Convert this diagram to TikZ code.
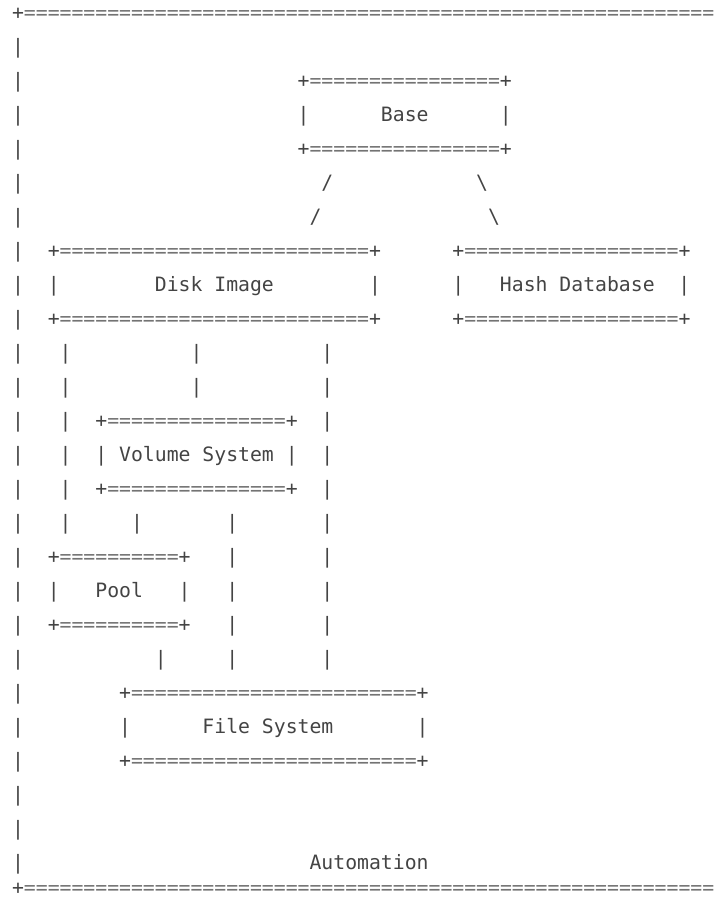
\documentclass[tikz,border=0pt]{standalone}
\usepackage{fontspec}
\newfontfamily\asciimono{DejaVu Sans Mono}
\definecolor{ink}{RGB}{68,68,68}
\definecolor{eqink}{RGB}{115,115,115}
\newcommand\repsraw[1]{\ifnum#1>0 =\expandafter\repsraw\expandafter{\the\numexpr#1-1\relax}\fi}
\newcommand\reps[1]{\textcolor{eqink}{\repsraw{#1}}}
\newcommand\ascii[4]{\node[txt] (#1) at ({12.05+11.9*(#2)},{879.5-34*(#3)}) {#4};}
\tikzset{txt/.style={font=\asciimono\fontsize{19.77}{34}\selectfont, text=ink, inner sep=0pt, outer sep=0pt, anchor=base west}}
\begin{document}
\begin{tikzpicture}[x=1pt,y=1pt]
\useasboundingbox (0,0) rectangle (714,899);
\clip (0,0) rectangle (714,899);
% outer frame
\ascii{topborder}{0}{0}{+\reps{58}}
\foreach \r in {1,...,25}{\ascii{lb\r}{0}{\r}{|}}
\node[txt] (botborder) at (12.05,5) {+\reps{58}};
% Base
\ascii{baseT}{24}{2}{+\reps{16}+}
\ascii{baseL}{24}{3}{|}
\ascii{base}{31}{3}{Base}
\ascii{baseR}{41}{3}{|}
\ascii{baseB}{24}{4}{+\reps{16}+}
% links from Base
\ascii{slA}{26}{5}{/}
\ascii{slB}{25}{6}{/}
\ascii{bsA}{39}{5}{\textbackslash}
\ascii{bsB}{40}{6}{\textbackslash}
% Disk Image
\ascii{diskT}{3}{7}{+\reps{26}+}
\ascii{diskL}{3}{8}{|}
\ascii{disk}{12}{8}{Disk Image}
\ascii{diskR}{30}{8}{|}
\ascii{diskB}{3}{9}{+\reps{26}+}
% Hash Database
\ascii{hashT}{37}{7}{+\reps{18}+}
\ascii{hashL}{37}{8}{|}
\ascii{hash}{41}{8}{Hash Database}
\ascii{hashR}{56}{8}{|}
\ascii{hashB}{37}{9}{+\reps{18}+}
% links below Disk Image
\foreach \r in {10,...,15}{\ascii{va\r}{4}{\r}{|}}
\foreach \r in {10,11}{\ascii{vb\r}{15}{\r}{|}}
\foreach \r in {10,...,19}{\ascii{vc\r}{26}{\r}{|}}
% Volume System
\ascii{volT}{7}{12}{+\reps{15}+}
\ascii{volL}{7}{13}{|}
\ascii{vol}{9}{13}{Volume System}
\ascii{volR}{23}{13}{|}
\ascii{volB}{7}{14}{+\reps{15}+}
% links below Volume System
\ascii{vd15}{10}{15}{|}
\foreach \r in {15,...,19}{\ascii{ve\r}{18}{\r}{|}}
% Pool
\ascii{poolT}{3}{16}{+\reps{10}+}
\ascii{poolL}{3}{17}{|}
\ascii{pool}{7}{17}{Pool}
\ascii{poolR}{14}{17}{|}
\ascii{poolB}{3}{18}{+\reps{10}+}
\ascii{vf19}{12}{19}{|}
% File System
\ascii{fsT}{9}{20}{+\reps{24}+}
\ascii{fsL}{9}{21}{|}
\ascii{fs}{16}{21}{File System}
\ascii{fsR}{34}{21}{|}
\ascii{fsB}{9}{22}{+\reps{24}+}
% Automation
\ascii{auto}{25}{25}{Automation}
\end{tikzpicture}
\end{document}
